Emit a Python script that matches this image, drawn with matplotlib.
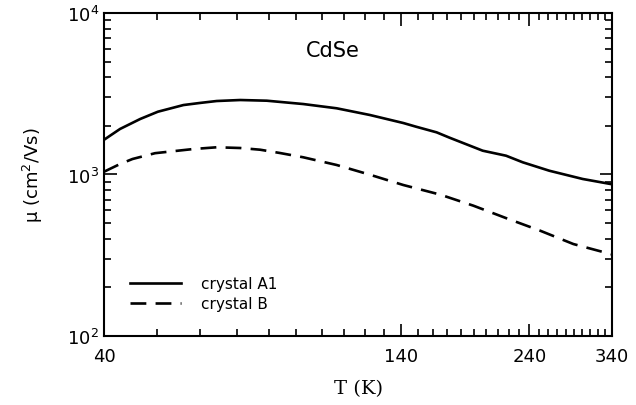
import matplotlib.pyplot as plt
from matplotlib.ticker import FixedLocator, NullFormatter, LogLocator

# values (T in K, mobility in cm^2/Vs)
T_a1 = [40, 42.8, 46.6, 50.2, 55.9, 59.9, 64.3, 71.0, 79.4, 92.6, 106.6,
        122.6, 141.1, 148.9, 162.4, 171.5, 197.2, 217.6, 233.4, 261.1, 300.5, 340]
mu_a1 = [1640, 1914, 2207, 2448, 2692, 2773, 2851, 2892, 2864, 2731, 2570,
         2336, 2084, 1977, 1824, 1690, 1404, 1307, 1190, 1055, 938, 870]

T_b = [40, 42.8, 45.1, 49.6, 58.3, 64.3, 71.0, 77.2, 84.0, 92.6, 106.6, 122.6, 141.1,
       165, 189.6, 218.2, 251.1, 288.9, 340]
mu_b = [1040, 1161, 1247, 1355, 1438, 1474, 1459, 1424, 1358, 1278, 1145, 997, 861,
        750, 641, 535, 449, 371, 320]

xticks = [40, 140, 240, 340]
xminor = [t for t in range(50, 340, 10) if t not in xticks]

fig = plt.figure(figsize=(6.36, 4.06), dpi=100)
ax = fig.add_axes([0.1635, 0.170, 0.7988, 0.7955])

ax.plot(T_a1, mu_a1, color='black', lw=1.9, label='crystal A1')
ax.plot(T_b, mu_b, color='black', lw=1.9, dashes=(6, 3.5), label='crystal B')

ax.set_xscale('log')
ax.set_yscale('log')
ax.set_xlim(40, 340)
ax.set_ylim(100, 10000)

ax.xaxis.set_major_locator(FixedLocator(xticks))
ax.xaxis.set_minor_locator(FixedLocator(xminor))
ax.xaxis.set_major_formatter(plt.FixedFormatter([str(t) for t in xticks]))
ax.xaxis.set_minor_formatter(NullFormatter())
ax.yaxis.set_major_locator(LogLocator(base=10))
ax.yaxis.set_minor_locator(LogLocator(base=10, subs=range(2, 10)))
ax.yaxis.set_minor_formatter(NullFormatter())

ax.tick_params(which='both', direction='in', top=True, right=True, width=1.2, labelsize=13)
ax.tick_params(which='major', length=9)
ax.tick_params(which='minor', length=5)
ax.tick_params(axis='x', pad=8)
for s in ax.spines.values():
    s.set_linewidth(1.5)

ax.text(0.45, 0.885, 'CdSe', transform=ax.transAxes, fontsize=15, ha='center', va='center')

ax.set_xlabel('T (K)', family='DejaVu Serif', fontsize=14, labelpad=10)
ax.set_ylabel('μ (cm$^2$/Vs)', fontsize=13, labelpad=16)

ax.legend(loc='lower left', bbox_to_anchor=(0.025, 0.035), frameon=False, fontsize=11,
          handlelength=3.3, handletextpad=1.3, labelspacing=0.3)

plt.savefig('out.png', dpi=100)
